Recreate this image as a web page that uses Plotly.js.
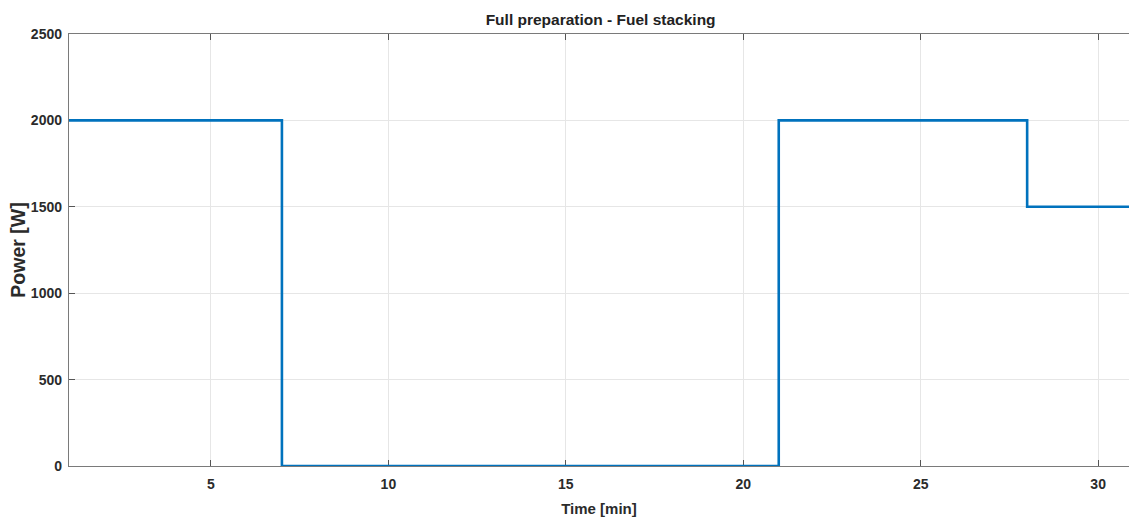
<!DOCTYPE html>
<html>
<head>
<meta charset="utf-8">
<script src="https://cdn.plot.ly/plotly-3.0.1.min.js"></script>
<style>
  html, body { margin: 0; padding: 0; background: #fff; overflow: hidden; }
  #chart { width: 1129px; height: 522px; }
</style>
</head>
<body>
<div id="chart"></div>
<script>
// Power profile of the heating cycle (step changes at each breakpoint)
const timeMin = [1, 7, 21, 28, 31];
const powerW = [2000, 0, 2000, 1500, 1500];
const xTicks = [5, 10, 15, 20, 25, 30];
const yTicks = [0, 500, 1000, 1500, 2000, 2500];

const fontFam = '"Liberation Sans", Arial, sans-serif';

const trace = {
  x: timeMin,
  y: powerW,
  type: 'scatter',
  mode: 'lines',
  line: { shape: 'hv', color: '#0072BD', width: 2.6 },
  hoverinfo: 'skip'
};

const axisCommon = {
  showline: true,
  linecolor: '#7a7a7a',
  linewidth: 1.2,
  ticks: 'inside',
  ticklen: 6,
  tickwidth: 1,
  tickcolor: '#555',
  showgrid: true,
  gridcolor: '#e6e6e6',
  gridwidth: 1,
  zeroline: false,
  layer: 'below traces',
  tickfont: { family: fontFam, size: 14, color: '#2b2b2b', weight: 'bold' }
};

const layout = {
  width: 1129,
  height: 522,
  paper_bgcolor: '#ffffff',
  plot_bgcolor: '#ffffff',
  margin: { l: 68.5, r: 0, t: 34, b: 56 },
  showlegend: false,
  title: {
    text: '<b>Full preparation - Fuel stacking</b>',
    x: 0.532, xanchor: 'center',
    y: 0.972, yanchor: 'top',
    font: { family: fontFam, size: 15.5, color: '#222' }
  },
  xaxis: Object.assign({}, axisCommon, {
    range: [1, 30.87],
    tickvals: xTicks,
    ticktext: xTicks.map(String),
    mirror: 'ticks',
    ticklabelstandoff: 5,
    title: { text: '<b>Time [min]</b>', standoff: 12,
      font: { family: fontFam, size: 15, color: '#2b2b2b' } }
  }),
  yaxis: Object.assign({}, axisCommon, {
    range: [0, 2500],
    tickvals: yTicks,
    ticktext: yTicks.map(String),
    mirror: false,
    ticklabelstandoff: 3,
    title: { text: '<b>Power [W]</b>', standoff: 0,
      font: { family: fontFam, size: 19.5, color: '#2b2b2b' } }
  })
};

Plotly.newPlot('chart', [trace], layout, { displayModeBar: false, staticPlot: true });
</script>
</body>
</html>
